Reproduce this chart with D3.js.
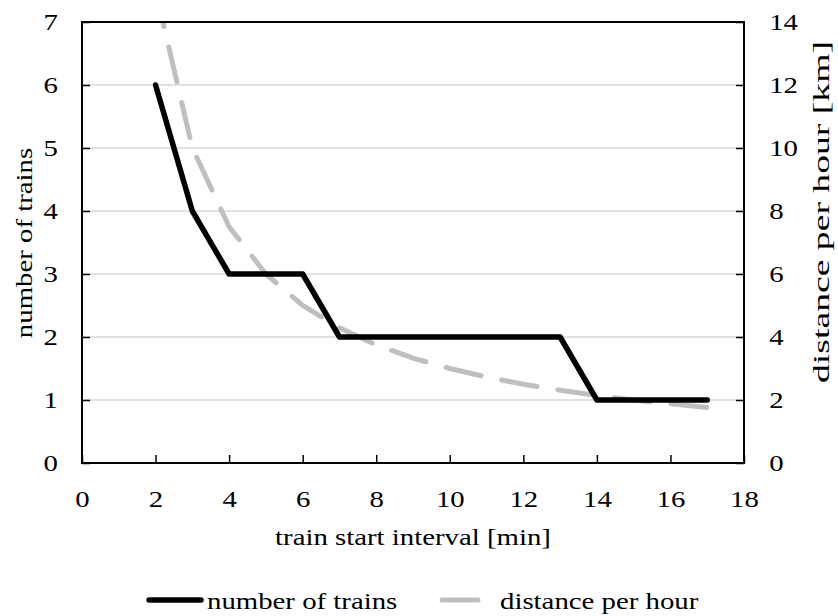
<!DOCTYPE html>
<html>
<head>
<meta charset="utf-8">
<script src="https://cdn.jsdelivr.net/npm/d3@7"></script>
<style>
  body { margin: 0; background: #fff; }
  text { font-family: "Liberation Serif", "Times New Roman", serif; font-size: 24px; fill: #000; }
</style>
</head>
<body>
<div id="chart"></div>
<script>
// chart data
const intervals = [2, 3, 4, 5, 6, 7, 8, 9, 10, 11, 12, 13, 14, 15, 16, 17];
const trains = [6, 4, 3, 3, 3, 2, 2, 2, 2, 2, 2, 2, 1, 1, 1, 1];
const distance = [15, 10, 7.5, 6, 5, 4.29, 3.75, 3.33, 3, 2.73, 2.5, 2.31, 2.14, 2, 1.88, 1.76];
const xTicks = [0, 2, 4, 6, 8, 10, 12, 14, 16, 18];
const leftTicks = [0, 1, 2, 3, 4, 5, 6, 7];
const rightTicks = [0, 2, 4, 6, 8, 10, 12, 14];

const W = 838, H = 616;
const margin = {left: 82, right: 744, top: 22, bottom: 463};
const stretch = 'scale(1.2,1)';

const svg = d3.select('#chart')
    .append('svg')
    .attr('width', W)
    .attr('height', H);

const x = d3.scaleLinear().domain([0, 18]).range([margin.left, margin.right]);
const yL = d3.scaleLinear().domain([0, 7]).range([margin.bottom, margin.top]);
const yR = d3.scaleLinear().domain([0, 14]).range([margin.bottom, margin.top]);

// gridlines
svg.append('g')
    .selectAll('line')
    .data(leftTicks.slice(1, -1))
    .join('line')
    .attr('x1', margin.left).attr('x2', margin.right)
    .attr('y1', d => yL(d)).attr('y2', d => yL(d))
    .attr('stroke', '#d9d9d9')
    .attr('stroke-width', 1.5);

svg.append('clipPath').attr('id', 'plot')
    .append('rect')
    .attr('x', margin.left).attr('y', margin.top)
    .attr('width', margin.right - margin.left).attr('height', margin.bottom - margin.top);

// series
const distLine = d3.line()
    .x((d, i) => x(intervals[i]))
    .y(d => yR(d));

svg.append('path')
    .datum(distance)
    .attr('clip-path', 'url(#plot)')
    .attr('fill', 'none')
    .attr('stroke', '#bfbfbf')
    .attr('stroke-width', 5)
    .attr('stroke-linecap', 'round')
    .attr('stroke-dasharray', '36,21')
    .attr('stroke-dashoffset', -1)
    .attr('d', distLine);

const trainLine = d3.line()
    .x((d, i) => x(intervals[i]))
    .y(d => yL(d));

svg.append('path')
    .datum(trains)
    .attr('fill', 'none')
    .attr('stroke', '#000')
    .attr('stroke-width', 5.5)
    .attr('stroke-linejoin', 'round')
    .attr('stroke-linecap', 'round')
    .attr('d', trainLine);

// axes
const fmt = d3.format('d');
const xAxis = d3.axisBottom(x).tickValues(xTicks).tickFormat(fmt)
    .tickSizeInner(-8).tickSizeOuter(0).tickPadding(27);
const lAxis = d3.axisLeft(yL).tickValues(leftTicks).tickFormat(fmt)
    .tickSizeInner(-8).tickSizeOuter(0).tickPadding(20);
const rAxis = d3.axisRight(yR).tickValues(rightTicks).tickFormat(fmt)
    .tickSizeInner(-8).tickSizeOuter(0).tickPadding(21);

function styleAxis(g) {
    g.select('.domain').remove();
    g.selectAll('line').attr('stroke', '#000').attr('stroke-width', 1.5);
    g.selectAll('text')
        .attr('font-family', null)
        .attr('font-size', null)
        .style('font-size', '24px')
        .attr('transform', stretch);
}

svg.append('g').attr('transform', `translate(0,${margin.bottom})`).call(xAxis).call(styleAxis);
svg.append('g').attr('transform', `translate(${margin.left},0)`).call(lAxis).call(styleAxis);
svg.append('g').attr('transform', `translate(${margin.right},0)`).call(rAxis).call(styleAxis);

// frame
svg.append('rect')
    .attr('x', margin.left).attr('y', margin.top)
    .attr('width', margin.right - margin.left).attr('height', margin.bottom - margin.top)
    .attr('fill', 'none')
    .attr('stroke', '#000')
    .attr('stroke-width', 2);

// titles
svg.append('text')
    .attr('transform', `translate(${(margin.left + margin.right) / 2},545) ${stretch}`)
    .attr('text-anchor', 'middle')
    .text('train start interval [min]');

svg.append('text')
    .attr('transform', `translate(32,243) rotate(-90) ${stretch}`)
    .attr('text-anchor', 'middle')
    .text('number of trains');

svg.append('text')
    .attr('transform', 'translate(829,212) rotate(-90) scale(1.57,1)')
    .attr('text-anchor', 'middle')
    .text('distance per hour [km]');

// legend
const legend = svg.append('g');
legend.append('line')
    .attr('x1', 149).attr('x2', 201).attr('y1', 600).attr('y2', 600)
    .attr('stroke', '#000').attr('stroke-width', 5.5).attr('stroke-linecap', 'round');
legend.append('text')
    .attr('transform', `translate(207,609) ${stretch}`)
    .text('number of trains');
legend.append('line')
    .attr('x1', 442).attr('x2', 478).attr('y1', 600).attr('y2', 600)
    .attr('stroke', '#bfbfbf').attr('stroke-width', 5).attr('stroke-linecap', 'round');
legend.append('text')
    .attr('transform', `translate(500,609) ${stretch}`)
    .text('distance per hour');
</script>
</body>
</html>
